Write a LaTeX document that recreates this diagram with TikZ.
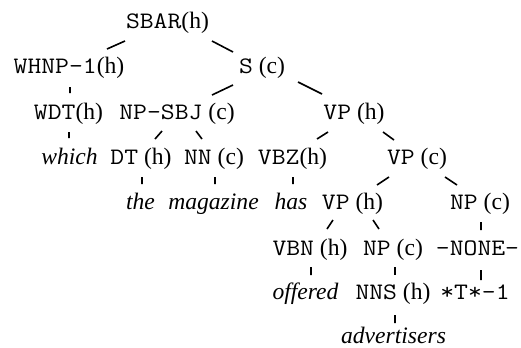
\documentclass[tikz,border=0pt]{standalone}
\usepackage{fontspec}
\setmainfont{Liberation Serif}
\setmonofont{Latin Modern Mono}[FakeStretch=1.14]
\usetikzlibrary{calc}
\begin{document}
\begin{tikzpicture}[x=1bp,y=-1bp,
  lbl/.style={anchor=base,inner sep=0pt,font=\fontsize{23.6bp}{28bp}\selectfont},
  edge/.style={line width=1.6bp}]
\useasboundingbox (0,0) rectangle (521,347);
% row 1
\node[lbl] (sbar) at (167.5,28) {\texttt{SBAR}(h)};
% row 2
\node[lbl] (whnp) at (69,73) {\texttt{WHNP-1}(h)};
\node[lbl] (s) at (262,73) {\texttt{S} (c)};
% row 3
\node[lbl] (wdt) at (68.5,119) {\texttt{WDT}(h)};
\node[lbl] (npsbj) at (177,119) {\texttt{NP-SBJ} (c)};
\node[lbl] (vpha) at (354,119) {\texttt{VP} (h)};
% row 4
\node[lbl] (which) at (69.5,164) {\itshape which};
\node[lbl] (dt) at (141,164) {\texttt{DT} (h)};
\node[lbl] (nn) at (214,164) {\texttt{NN} (c)};
\node[lbl] (vbz) at (292.5,164) {\texttt{VBZ}(h)};
\node[lbl] (vpca) at (417,164) {\texttt{VP} (c)};
% row 5
\node[lbl] (the) at (140.5,209) {\itshape the};
\node[lbl] (magazine) at (213.5,209) {\itshape magazine};
\node[lbl] (has) at (291,209) {\itshape has};
\node[lbl] (vphb) at (352.5,209) {\texttt{VP} (h)};
\node[lbl] (npca) at (480,209) {\texttt{NP} (c)};
% row 6
\node[lbl] (vbn) at (310,255) {\texttt{VBN} (h)};
\node[lbl] (npcb) at (393,255) {\texttt{NP} (c)};
\node[lbl] (none) at (477.5,255) {\texttt{-NONE-}};
% row 7
\node[lbl] (offered) at (305.5,299) {\itshape offered};
\node[lbl] (nns) at (393,299) {\texttt{NNS} (h)};
\node[lbl] (trace) at (475,299) {\texttt{*T*-1}};
% row 8
\node[lbl] (advertisers) at (393.5,343) {\itshape advertisers};
% connectors
\draw[edge] ($(sbar.base)+(-42.5,13)$) -- ($(whnp.base)+(38,-24)$);
\draw[edge] ($(sbar.base)+(44.5,13)$) -- ($(s.base)+(-29,-21)$);
\draw[edge] ($(whnp.base)+(1,14)$) -- ($(wdt.base)+(1.5,-26)$);
\draw[edge] ($(s.base)+(-29,12)$) -- ($(npsbj.base)+(35,-24)$);
\draw[edge] ($(s.base)+(36,9)$) -- ($(vpha.base)+(-32,-25)$);
\draw[edge] ($(wdt.base)+(0.5,13)$) -- ($(which.base)+(-0.5,-26)$);
\draw[edge] ($(npsbj.base)+(-15,12)$) -- ($(dt.base)+(14,-25)$);
\draw[edge] ($(npsbj.base)+(19,12)$) -- ($(nn.base)+(-12,-25)$);
\draw[edge] ($(vpha.base)+(-26,13)$) -- ($(vbz.base)+(24.5,-25)$);
\draw[edge] ($(vpha.base)+(29,13)$) -- ($(vpca.base)+(-23,-24)$);
\draw[edge] ($(dt.base)+(1,13)$) -- ($(the.base)+(1.5,-25)$);
\draw[edge] ($(nn.base)+(1,13)$) -- ($(magazine.base)+(1.5,-25)$);
\draw[edge] ($(vbz.base)+(0.5,13)$) -- ($(has.base)+(2,-25)$);
\draw[edge] ($(vpca.base)+(-28,13)$) -- ($(vphb.base)+(24.5,-24)$);
\draw[edge] ($(vpca.base)+(28,13)$) -- ($(npca.base)+(-23,-24)$);
\draw[edge] ($(npca.base)+(1,13)$) -- ($(none.base)+(3.5,-25)$);
\draw[edge] ($(vphb.base)+(-19.5,11)$) -- ($(vbn.base)+(17,-26)$);
\draw[edge] ($(vphb.base)+(20.5,11)$) -- ($(npcb.base)+(-14,-26)$);
\draw[edge] ($(vbn.base)+(1,12)$) -- ($(offered.base)+(5.5,-24)$);
\draw[edge] ($(npcb.base)+(2,12)$) -- ($(nns.base)+(2,-24)$);
\draw[edge] ($(none.base)+(3.5,15)$) -- ($(trace.base)+(6,-19)$);
\draw[edge] ($(nns.base)+(2,16)$) -- ($(advertisers.base)+(1.5,-20)$);
\end{tikzpicture}
\end{document}
